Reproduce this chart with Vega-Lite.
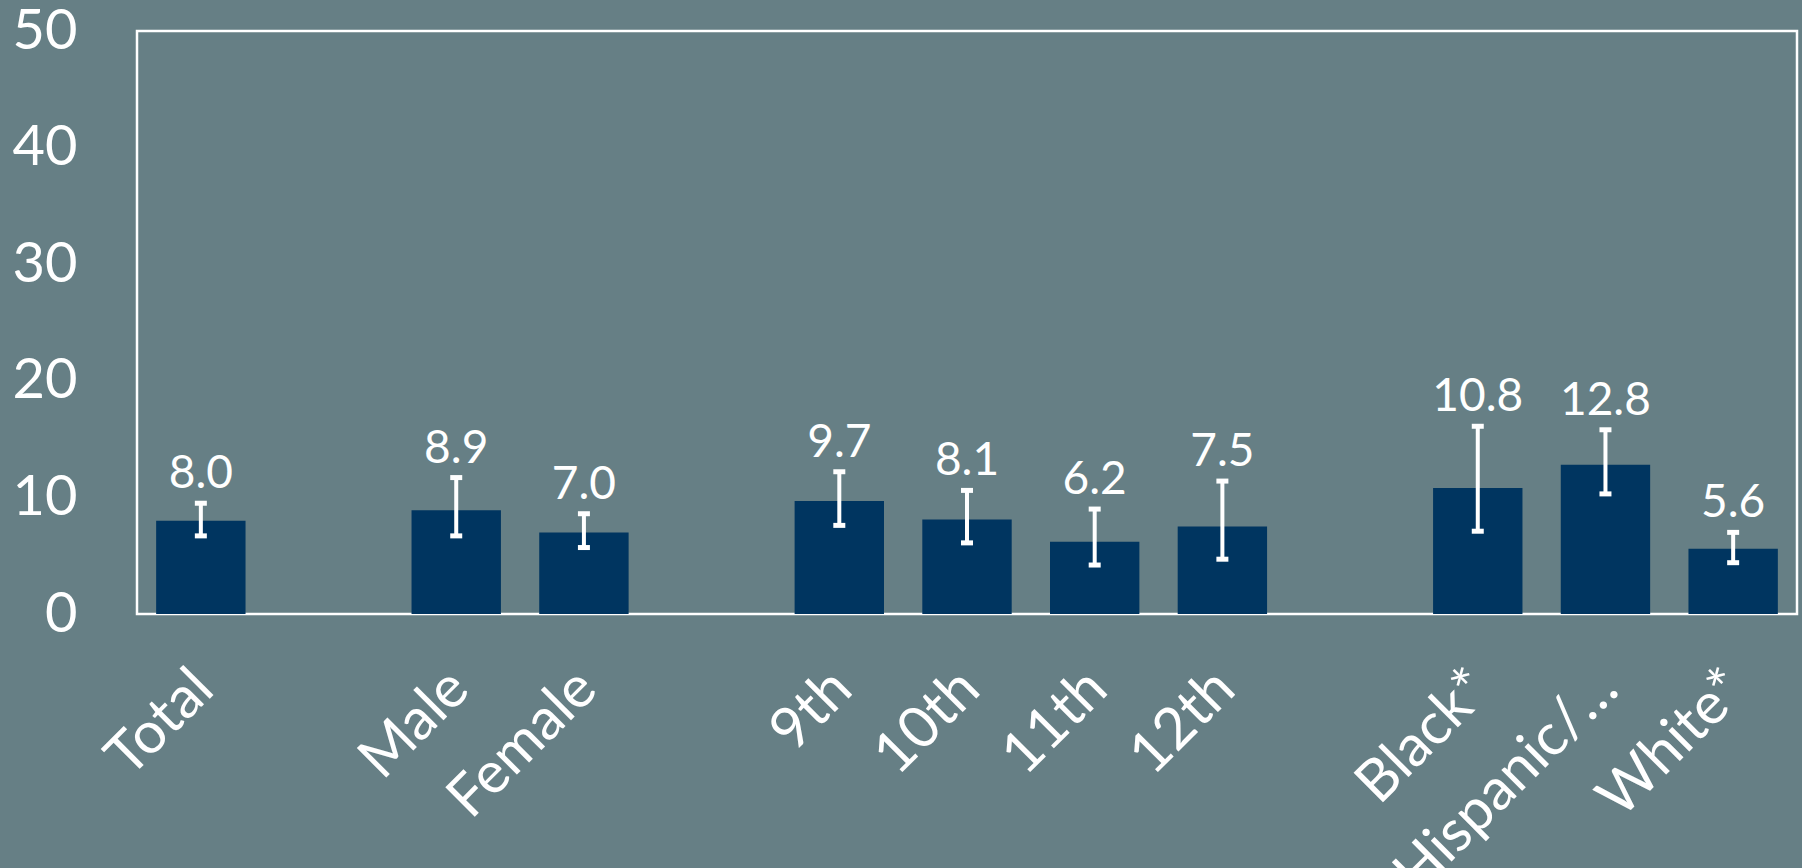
{
  "$schema": "https://vega.github.io/schema/vega-lite/v6.json",
  "width": 1660,
  "height": 583,
  "autosize": {"type": "none"},
  "padding": {"left": 137, "top": 31, "right": 5, "bottom": 254},
  "background": "#667f85",
  "config": {
    "view": {"stroke": "#ffffff", "strokeWidth": 2.5},
    "font": "Lato"
  },
  "data": {
    "values": [
      {"group": "Total", "value": 8.0, "lower": 6.7, "upper": 9.5},
      {"group": "Male", "value": 8.9, "lower": 6.7, "upper": 11.7},
      {"group": "Female", "value": 7.0, "lower": 5.7, "upper": 8.6},
      {"group": "9th", "value": 9.7, "lower": 7.6, "upper": 12.2},
      {"group": "10th", "value": 8.1, "lower": 6.1, "upper": 10.6},
      {"group": "11th", "value": 6.2, "lower": 4.2, "upper": 9.0},
      {"group": "12th", "value": 7.5, "lower": 4.7, "upper": 11.4},
      {"group": "Black*", "value": 10.8, "lower": 7.1, "upper": 16.1},
      {"group": "Hispanic/…", "value": 12.8, "lower": 10.3, "upper": 15.8},
      {"group": "White*", "value": 5.6, "lower": 4.4, "upper": 7.0}
    ]
  },
  "encoding": {
    "x": {
      "field": "group",
      "type": "nominal",
      "sort": null,
      "scale": {
        "domain": ["Total", " ", "Male", "Female", "  ", "9th", "10th", "11th", "12th", "   ", "Black*", "Hispanic/…", "White*"],
        "paddingInner": 0.3,
        "paddingOuter": 0.15
      },
      "axis": {
        "title": null,
        "labelAngle": -45,
        "labelAlign": "right",
        "labelBaseline": "top",
        "labelPadding": 45,
        "labelOffset": -17,
        "labelFontSize": 58,
        "labelColor": "#ffffff",
        "labelLimit": 0,
        "labelOverlap": false,
        "ticks": false,
        "domain": false,
        "grid": false
      }
    }
  },
  "layer": [
    {
      "mark": {"type": "bar", "color": "#003560"},
      "encoding": {
        "y": {
          "field": "value",
          "type": "quantitative",
          "scale": {"domain": [0, 50], "nice": false},
          "axis": {
            "title": null,
            "values": [0, 10, 20, 30, 40, 50],
            "labelFontSize": 56,
            "labelColor": "#ffffff",
            "labelPadding": 60,
            "ticks": false,
            "domain": false,
            "grid": false
          }
        }
      }
    },
    {
      "mark": {"type": "rule", "color": "#ffffff", "strokeWidth": 4},
      "encoding": {
        "y": {"field": "lower", "type": "quantitative"},
        "y2": {"field": "upper"}
      }
    },
    {
      "mark": {"type": "tick", "color": "#ffffff", "size": 12, "thickness": 5, "opacity": 1},
      "encoding": {"y": {"field": "lower", "type": "quantitative"}}
    },
    {
      "mark": {"type": "tick", "color": "#ffffff", "size": 12, "thickness": 5, "opacity": 1},
      "encoding": {"y": {"field": "upper", "type": "quantitative"}}
    },
    {
      "mark": {"type": "text", "color": "#ffffff", "fontSize": 46, "baseline": "alphabetic", "dy": -15},
      "encoding": {
        "y": {"field": "upper", "type": "quantitative"},
        "text": {"field": "value", "type": "quantitative", "format": ".1f"}
      }
    }
  ]
}
